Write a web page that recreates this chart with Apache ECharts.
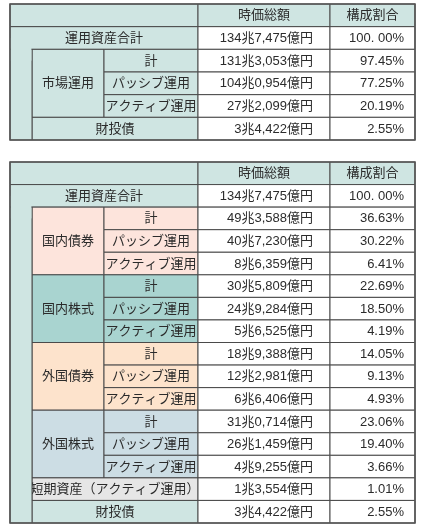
<!DOCTYPE html><html><head><meta charset="utf-8">
<script src="https://cdn.jsdelivr.net/npm/echarts@6/dist/echarts.min.js"></script>
<style>html,body{margin:0;padding:0;background:#fff}#c{width:429px;height:529px}</style></head><body><div id="c"></div>
<script>
const HEADERS = ['時価総額','構成割合'];
const TOTAL_LABEL = '運用資産合計';
const TOTAL_VALUE = '134兆7,475億円';
const TOTAL_PCT = '100. 00%';
const SUB_LABELS = ['計','パッシブ運用','アクティブ運用'];
// table 1
const T1_GROUP = '市場運用';
const T1_VALUES = ['131兆3,053億円','104兆0,954億円','27兆2,099億円'];
const T1_PCT = ['97.45%','77.25%','20.19%'];
const ZAITOU_LABEL = '財投債';
const ZAITOU_VALUE = '3兆4,422億円';
const ZAITOU_PCT = '2.55%';
// table 2
const T2_GROUPS = ['国内債券','国内株式','外国債券','外国株式'];
const T2_VALUES = [
  ['49兆3,588億円','40兆7,230億円','8兆6,359億円'],
  ['30兆5,809億円','24兆9,284億円','5兆6,525億円'],
  ['18兆9,388億円','12兆2,981億円','6兆6,406億円'],
  ['31兆0,714億円','26兆1,459億円','4兆9,255億円']];
const T2_PCT = [
  ['36.63%','30.22%','6.41%'],
  ['22.69%','18.50%','4.19%'],
  ['14.05%','9.13%','4.93%'],
  ['23.06%','19.40%','3.66%']];
const SHORT_LABEL = '短期資産（アクティブ運用）';
const SHORT_VALUE = '1兆3,554億円';
const SHORT_PCT = '1.01%';

const COL = [0,22,94,188,320,405];
const TEAL='#cfe5e2', WHITE='#ffffff';
const GROUP_COLORS=['#fde4dc','#a9d4d0','#fde3cc','#ccdde4'];
const GRAY='#e6e6e6';

function cell(c0,c1,r0,r1,fill,text,align){return {c0,c1,r0,r1,fill,text:text||'',align:align||'center',stroke:true};}
function commonTop(cells){
  cells.push(cell(0,3,0,1,TEAL));
  cells.push(cell(3,4,0,1,TEAL,HEADERS[0]));
  cells.push(cell(4,5,0,1,TEAL,HEADERS[1]));
  cells.push(cell(0,3,1,2,TEAL,TOTAL_LABEL));
  cells.push(cell(3,4,1,2,WHITE,TOTAL_VALUE,'right'));
  cells.push(cell(4,5,1,2,WHITE,TOTAL_PCT,'right'));
}
function groupRows(cells,r,label,fill,vals,pcts){
  cells.push(cell(1,2,r,r+3,fill,label));
  for(let i=0;i<3;i++){
    cells.push(cell(2,3,r+i,r+i+1,fill,SUB_LABELS[i]));
    cells.push(cell(3,4,r+i,r+i+1,WHITE,vals[i],'right'));
    cells.push(cell(4,5,r+i,r+i+1,WHITE,pcts[i],'right'));
  }
}
function finish(cells,nRows){
  cells.push(cell(0,1,2,nRows,TEAL));
  const cover=cell(0,1,1.5,2.5,TEAL);cover.stroke=false;cover.cover=true;cells.push(cover);
  const frame=cell(0,5,0,nRows,'none');frame.frame=true;cells.push(frame);
}
const cells1=[];commonTop(cells1);
groupRows(cells1,2,T1_GROUP,TEAL,T1_VALUES,T1_PCT);
cells1.push(cell(1,3,5,6,TEAL,ZAITOU_LABEL));
cells1.push(cell(3,4,5,6,WHITE,ZAITOU_VALUE,'right'));
cells1.push(cell(4,5,5,6,WHITE,ZAITOU_PCT,'right'));
finish(cells1,6);
const cells2=[];commonTop(cells2);
T2_GROUPS.forEach((g,k)=>groupRows(cells2,2+3*k,g,GROUP_COLORS[k],T2_VALUES[k],T2_PCT[k]));
cells2.push(cell(1,3,14,15,GRAY,SHORT_LABEL));
cells2.push(cell(3,4,14,15,WHITE,SHORT_VALUE,'right'));
cells2.push(cell(4,5,14,15,WHITE,SHORT_PCT,'right'));
cells2.push(cell(1,3,15,16,TEAL,ZAITOU_LABEL));
cells2.push(cell(3,4,15,16,WHITE,ZAITOU_VALUE,'right'));
cells2.push(cell(4,5,15,16,WHITE,ZAITOU_PCT,'right'));
finish(cells2,16);

function render(cells){
  return function(params,api){
    const c=cells[params.dataIndex];
    const p0=api.coord([COL[c.c0],c.r0]), p1=api.coord([COL[c.c1],c.r1]);
    const x=p0[0],y=p0[1],w=p1[0]-p0[0],h=p1[1]-p0[1];
    if(c.frame) return {type:'rect',shape:{x,y,width:w,height:h},style:{fill:'none',stroke:'#555',lineWidth:1.6}};
    if(c.cover) return {type:'rect',shape:{x:x+0.6,y,width:w-1.2,height:h},style:{fill:c.fill}};
    const pad = c.c0===4?11:17;
    return {type:'group',children:[
      {type:'rect',shape:{x,y,width:w,height:h},style:{fill:c.fill,stroke:'#4a4a4a',lineWidth:1}},
      {type:'text',x:c.align==='right'?x+w-pad:x+w/2,y:y+h/2+0.5,style:{text:c.text,fill:'#2b2b2b',
        font:'13px "Liberation Sans", "Noto Sans CJK JP", sans-serif',align:c.align,verticalAlign:'middle'}}
    ]};
  };
}
const chart=echarts.init(document.getElementById('c'),null,{renderer:'canvas'});
const ax=(i,max)=>({gridIndex:i,type:'value',min:0,max:max,show:false});
chart.setOption({
  animation:false,
  grid:[{left:10,width:405,top:4,height:136},{left:10,width:405,top:162,height:361}],
  xAxis:[ax(0,405),ax(1,405)],
  yAxis:[Object.assign(ax(0,6),{inverse:true}),Object.assign(ax(1,16),{inverse:true})],
  series:[
    {type:'custom',xAxisIndex:0,yAxisIndex:0,renderItem:render(cells1),data:cells1.map(c=>[COL[c.c0],c.r0]),clip:false},
    {type:'custom',xAxisIndex:1,yAxisIndex:1,renderItem:render(cells2),data:cells2.map(c=>[COL[c.c0],c.r0]),clip:false}
  ]
});
</script></body></html>
